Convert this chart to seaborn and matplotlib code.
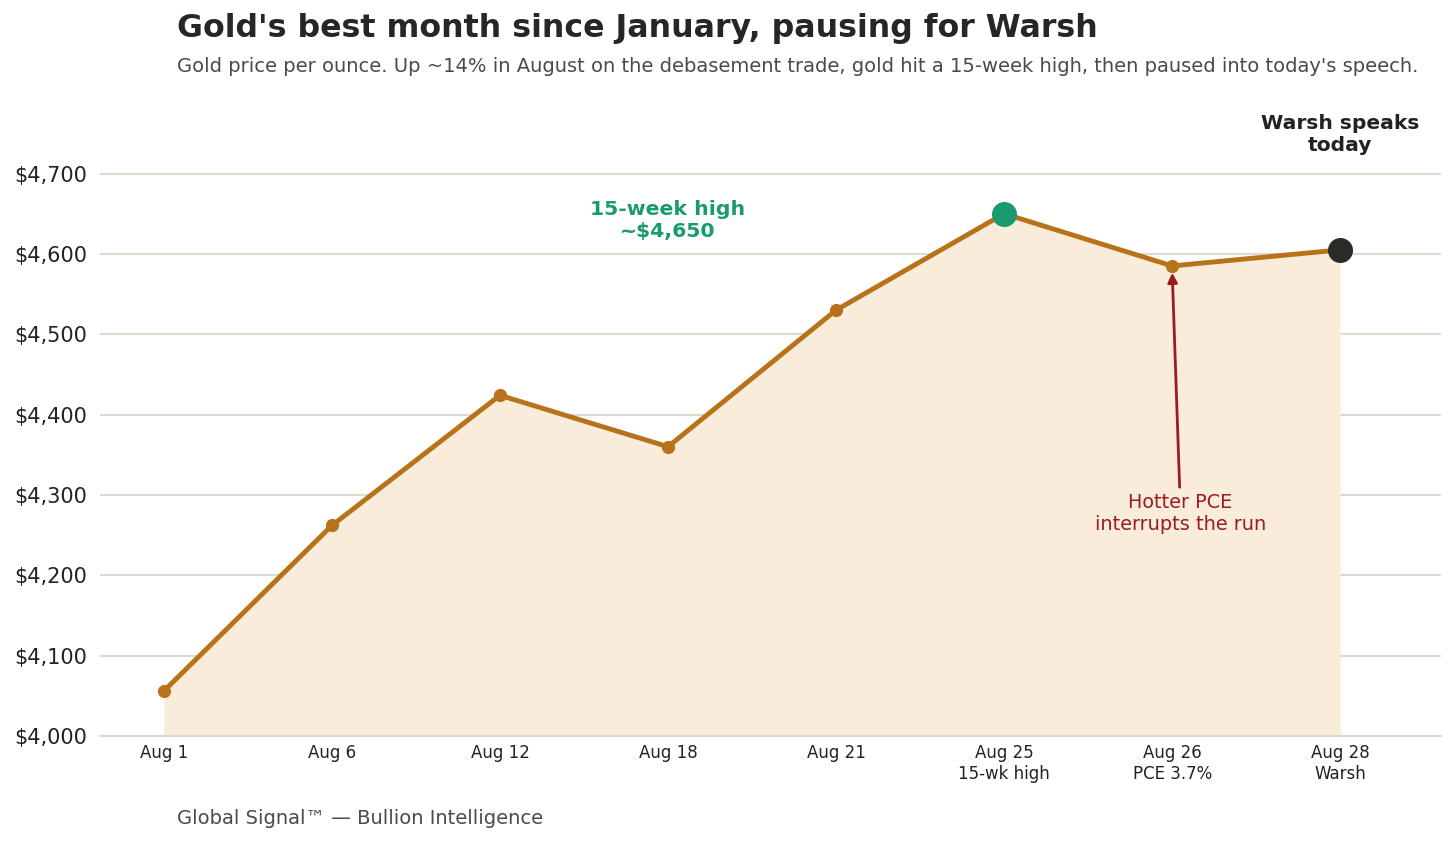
import matplotlib
matplotlib.use("Agg")
import matplotlib.pyplot as plt
import seaborn as sns
import pandas as pd

dates = ["Aug 1", "Aug 6", "Aug 12", "Aug 18", "Aug 21", "Aug 25", "Aug 26", "Aug 28"]
tick_labels = ["Aug 1", "Aug 6", "Aug 12", "Aug 18", "Aug 21",
               "Aug 25\n15-wk high", "Aug 26\nPCE 3.7%", "Aug 28\nWarsh"]
prices = [4056, 4262, 4424, 4360, 4530, 4650, 4585, 4605]
y_ticks = [4000, 4100, 4200, 4300, 4400, 4500, 4600, 4700]

sns.set_theme(style="white")
plt.rcParams['font.family'] = ['DejaVu Sans']

LINE = "#b8721a"
FILL = "#f9ecda"
GREEN = "#1a9a70"
RED = "#9b1b1f"

df = pd.DataFrame({"pos": range(len(dates)), "price": prices})

fig = plt.figure(figsize=(14.56, 8.44), dpi=100)
ax = fig.add_axes([0.0687, 0.128, 0.921, 0.714])

ax.fill_between(df["pos"], 4000, df["price"], color=FILL, lw=0, zorder=1)
sns.lineplot(data=df, x="pos", y="price", ax=ax, color=LINE, lw=3.5,
             marker="o", markersize=9.5, markeredgewidth=0, zorder=3)
ax.plot([5], [prices[5]], "o", color=GREEN, markersize=17, zorder=4)
ax.plot([7], [prices[7]], "o", color="#2a2a28", markersize=17, zorder=4)

ax.set_xlim(-0.38, 7.6)
ax.set_ylim(4000, 4750)
ax.set_yticks(y_ticks)
ax.set_yticklabels([f"${v:,}" for v in y_ticks], fontsize=15, color="#222222")
ax.set_xticks(range(len(dates)))
ax.set_xticklabels(tick_labels, fontsize=12, color="#222222")
ax.set_xlabel("")
ax.set_ylabel("")
ax.grid(axis="y", color="#dddbd0", lw=1.5, zorder=0)
ax.set_axisbelow(True)
for s in ["top", "right", "left"]:
    ax.spines[s].set_visible(False)
ax.spines["bottom"].set_color("#dddbd0")
ax.spines["bottom"].set_linewidth(1.5)
ax.tick_params(axis="x", length=0, pad=6)
ax.tick_params(axis="y", length=0, pad=9)

ax.text(3.0, 4642, "15-week high\n~$4,650", ha="center", va="center",
        fontsize=14.7, fontweight="bold", color=GREEN, linespacing=1.2)
ax.annotate("Hotter PCE\ninterrupts the run", xy=(6.0, 4580), xytext=(6.05, 4302),
            ha="center", va="top", fontsize=13.9, color=RED, linespacing=1.2,
            arrowprops=dict(arrowstyle="-|>", color=RED, lw=2, shrinkA=2, shrinkB=2,
                            mutation_scale=14))
ax.text(7.0, 4749, "Warsh speaks\ntoday", ha="center", va="center", fontsize=14.6,
        fontweight="bold", color="#222222", clip_on=False, linespacing=1.2)

fig.text(177 / 1456, 1 - 28 / 844, "Gold's best month since January, pausing for Warsh",
         ha="left", va="center", fontsize=22.8, fontweight="bold", color="#262626")
fig.text(177 / 1456, 1 - 66 / 844,
         "Gold price per ounce. Up ~14% in August on the debasement trade, gold hit a 15-week high, then paused into today's speech.",
         ha="left", va="center", fontsize=14, color="#4a4a4a")
fig.text(177 / 1456, 1 - 819 / 844, "Global Signal™ — Bullion Intelligence",
         ha="left", va="center", fontsize=14, color="#4a4a4a")

fig.savefig("out.png", dpi=100, facecolor="white")
